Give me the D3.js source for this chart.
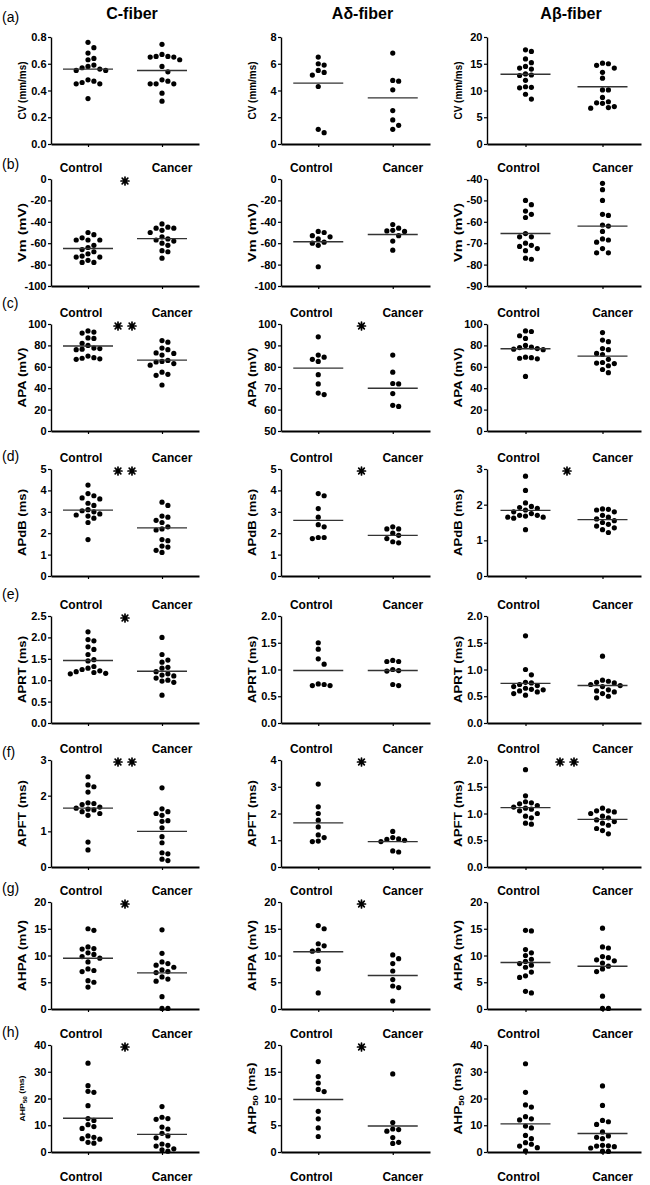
<!DOCTYPE html>
<html><head><meta charset="utf-8">
<script src="https://cdn.jsdelivr.net/npm/d3@7"></script>
<style>
body{margin:0;background:#fff}
svg{display:block;background:#fff}
text{font-family:"Liberation Sans",Arial,Helvetica,sans-serif;fill:#000}
</style>
</head><body>
<svg id="chart" width="650" height="1185"></svg>
<script>
// ---------- categories & labels ----------
const fiberTypes = ["C-fiber", "Aδ-fiber", "Aβ-fiber"];
const groups = ["Control", "Cancer"];
const panelLetters = ["(a)", "(b)", "(c)", "(d)", "(e)", "(f)", "(g)", "(h)"];
const yAxisTitles = ["CV (mm/ms)", "Vm (mV)", "APA (mV)", "APdB (ms)", "APRT (ms)", "APFT (ms)", "AHPA (mV)", "AHP50 (ms)"];

// tick labels per row, per fiber type
const yTickLabels = [
  [["0.0","0.2","0.4","0.6","0.8"], ["0","2","4","6","8"], ["0","5","10","15","20"]],
  [["-100","-80","-60","-40","-20","0"], ["-100","-80","-60","-40","-20","0"], ["-90","-80","-70","-60","-50","-40"]],
  [["0","20","40","60","80","100"], ["50","60","70","80","90","100"], ["0","20","40","60","80","100"]],
  [["0","1","2","3","4","5"], ["0","1","2","3","4","5"], ["0","1","2","3"]],
  [["0.0","0.5","1.0","1.5","2.0","2.5"], ["0.0","0.5","1.0","1.5","2.0"], ["0.0","0.5","1.0","1.5","2.0"]],
  [["0","1","2","3"], ["0","1","2","3","4"], ["0.0","0.5","1.0","1.5","2.0"]],
  [["0","5","10","15","20"], ["0","5","10","15","20"], ["0","5","10","15","20"]],
  [["0","10","20","30","40"], ["0","5","10","15","20"], ["0","10","20","30","40"]]
];

// significance stars (count) per row, per fiber type
const significance = [[0,0,0],[1,0,0],[2,1,0],[2,1,1],[1,0,0],[2,1,2],[1,1,0],[1,1,0]];

// ---------- data (C-fiber, Aδ-fiber, Aβ-fiber) ----------
const CV_control = [
  [0.76,0.72,0.68,0.64,0.63,0.59,0.58,0.57,0.56,0.55,0.55,0.48,0.47,0.46,0.45,0.45,0.34],
  [6.5,6.0,5.9,5.5,5.35,5.15,4.3,1.1,0.85],
  [17.6,17.3,15.9,15.2,14.5,14.2,14.0,13.1,12.9,12.8,11.9,10.7,10.6,10.5,9.3,8.4]];
const CV_cancer = [
  [0.745,0.67,0.655,0.655,0.65,0.65,0.63,0.58,0.54,0.48,0.47,0.45,0.45,0.45,0.38,0.32],
  [6.8,4.75,4.7,4.05,2.5,1.8,1.4,1.1],
  [15.1,15.0,14.7,14.2,13.4,12.3,10.1,10.1,8.7,7.9,7.7,7.6,7.0,6.8,6.7]];
const CV_means = [[0.56,0.55],[4.55,3.45],[13.05,10.7]];

const Vm_control = [
  [-50,-52,-55,-57,-57,-57,-62,-64,-66,-68,-70,-72,-73,-73,-76,-78,-78],
  [-49,-50,-53,-54,-56,-59,-60,-62,-82],
  [-50,-52,-55,-56.5,-58,-65.5,-67,-67,-70,-71,-71.5,-72.5,-73.5,-77,-77.5]];
const Vm_cancer = [
  [-42,-45,-46,-46,-48,-50,-54,-56,-57,-58,-60,-62,-67,-68,-74],
  [-42.5,-46,-48,-48.5,-49,-53,-58,-66.5],
  [-42,-45,-50,-56.5,-57,-61.5,-62,-64.5,-68,-68.5,-69.5,-72.5,-74.5,-74.5]];
const Vm_means = [[-65,-55.7],[-58.7,-51.9],[-65.5,-62]];

const APA_control = [
  [93.5,92.5,91.5,87,86.5,82,80,77.5,77,76.5,76,70,68.5,68,67.5,67],
  [94,85.5,84.5,83.5,82.5,76.3,72,67.7,67],
  [93.5,93,89,86.5,80,78.5,78,77,76.5,76,69,68.5,68,67.5,51]];
const APA_cancer = [
  [84.5,83,77.5,76,73,72.5,71,66,65,64.5,63,61.5,55,53,52,43],
  [85.5,77.5,72.2,72,67.5,62,61.5],
  [92,85,83.5,77,76,72.5,71.5,67,64,63.5,63,61,57.5,54.5]];
const APA_means = [[79.5,66.2],[79.4,70],[76.8,70]];

const APdB_control = [
  [4.25,3.85,3.75,3.65,3.6,3.4,3.3,3.1,3.05,3.0,2.9,2.85,2.8,2.7,2.5,1.7],
  [3.85,3.75,3.15,2.75,2.4,2.3,1.8,1.8,1.75],
  [2.8,2.4,2.05,1.95,1.92,1.9,1.85,1.8,1.75,1.7,1.7,1.68,1.65,1.65,1.62,1.3]];
const APdB_cancer = [
  [3.45,3.3,2.8,2.75,2.6,2.5,2.3,2.2,2.15,1.7,1.65,1.4,1.35,1.2,1.1],
  [2.3,2.2,2.2,2.0,1.9,1.75,1.6,1.55],
  [1.88,1.87,1.85,1.8,1.7,1.65,1.6,1.55,1.5,1.45,1.4,1.35,1.3,1.22]];
const APdB_means = [[3.08,2.25],[2.6,1.9],[1.84,1.58]];

const APRT_control = [
  [2.13,1.95,1.92,1.78,1.72,1.6,1.48,1.45,1.32,1.28,1.25,1.22,1.2,1.18,1.16,1.15],
  [1.5,1.38,1.2,1.1,0.73,0.72,0.7,0.7],
  [1.63,1.0,0.9,0.76,0.75,0.72,0.7,0.68,0.65,0.63,0.62,0.6,0.58,0.55,0.52]];
const APRT_cancer = [
  [2.0,1.6,1.47,1.42,1.3,1.28,1.2,1.15,1.12,1.1,1.05,1.0,0.98,0.95,0.65],
  [1.17,1.15,1.15,1.0,0.98,0.97,0.72,0.7],
  [1.25,0.8,0.78,0.76,0.75,0.72,0.7,0.68,0.62,0.6,0.58,0.55,0.5,0.47]];
const APRT_means = [[1.46,1.21],[0.98,0.98],[0.74,0.7]];

const APFT_control = [
  [2.53,2.3,2.25,2.1,1.8,1.78,1.75,1.68,1.65,1.62,1.6,1.55,1.5,1.45,0.7,0.48],
  [3.1,2.25,2.0,1.75,1.5,1.2,1.1,0.97,0.95],
  [1.82,1.33,1.22,1.2,1.18,1.15,1.12,1.1,1.08,1.05,1.0,0.95,0.92,0.82,0.8]];
const APFT_cancer = [
  [2.22,1.63,1.55,1.5,1.45,1.3,1.28,1.1,0.85,0.68,0.4,0.37,0.22,0.18],
  [1.33,1.1,1.05,1.03,1.0,0.95,0.6,0.56],
  [1.1,1.05,1.05,1.03,1.0,0.95,0.92,0.88,0.85,0.82,0.78,0.72,0.68,0.62]];
const APFT_means = [[1.65,1.0],[1.65,0.95],[1.11,0.89]];

const AHPA_control = [
  [15,14.7,11.6,11.3,11.2,10.5,10.2,9.8,9.5,8.8,7.5,7.2,7.0,5.3,5.0,4.1],
  [15.6,15.0,12.2,11.8,11.0,10.8,8.9,7.5,3.0],
  [14.7,14.6,11.1,10.5,10.0,9.3,8.9,8.5,8.2,7.8,6.9,6.2,5.9,3.3,3.0]];
const AHPA_cancer = [
  [14.8,10.4,8.8,8.5,8.2,7.8,7.3,7.0,6.8,6.0,5.6,5.2,2.3,0.1,0.1],
  [10.1,9.4,8.5,7.1,5.5,4.3,4.0,1.5],
  [15.1,11.6,11.4,9.8,9.6,9.2,9.0,8.6,8.0,7.5,7.0,2.4,0.1,0.1]];
const AHPA_means = [[9.5,6.75],[10.7,6.25],[8.7,8.0]];

const AHP50_control = [
  [33.2,24.8,22.7,22.3,17.3,12.5,11.8,10.2,9.5,8.8,6.0,5.5,5.0,4.8,3.6,3.3],
  [16.9,14.1,12.9,11.7,11.3,7.6,6.2,4.5,2.9],
  [33,22.3,17.6,16.8,13.2,12.4,12.0,9.7,9.0,6.2,5.0,3.5,2.9,2.2,1.6,0.4]];
const AHP50_cancer = [
  [17.0,13.0,12.5,12.2,9.3,8.6,7.0,6.0,5.3,3.0,2.5,2.2,1.2,0.8,0.3],
  [14.6,5.5,4.3,4.2,3.9,2.7,1.8,1.6],
  [24.7,17.4,11.8,11.3,10.3,7.5,6.0,5.5,5.0,2.5,2.3,2.2,2.0,1.5,0.3,0.2]];
const AHP50_means = [[12.6,6.6],[9.8,4.85],[10.5,6.9]];

// build table from named arrays
const rows = [
  [CV_control, CV_cancer, CV_means],
  [Vm_control, Vm_cancer, Vm_means],
  [APA_control, APA_cancer, APA_means],
  [APdB_control, APdB_cancer, APdB_means],
  [APRT_control, APRT_cancer, APRT_means],
  [APFT_control, APFT_cancer, APFT_means],
  [AHPA_control, AHPA_cancer, AHPA_means],
  [AHP50_control, AHP50_cancer, AHP50_means]
];

// ---------- layout ----------
const rowTop = [37, 179, 324, 469, 616, 760, 902, 1045];
const rowHeight = 107;
const colRange = [[51, 199], [281, 430], [487, 641]];
const titleLen = [58, 59, 60, 67, 67, 67, 71, 72];
const letterBaseline = [22, 169, 308, 461, 599, 757, 893, 1037];
const R = 2.6;

const svg = d3.select("#chart");

function swarm(values, y, cx) {
  const pts = values.map(v => ({ v, y: y(v) })).sort((a, b) => a.y - b.y);
  const D = 2 * R + 0.4, step = 2 * R + 0.7;
  const placed = [];
  pts.forEach(p => {
    for (let k = 0; k < 60; k++) {
      const off = k === 0 ? 0 : (k % 2 ? 1 : -1) * Math.ceil(k / 2) * step;
      const x = cx + off;
      if (placed.every(q => (q.x - x) ** 2 + (q.y - p.y) ** 2 >= D * D)) { p.x = x; break; }
    }
    placed.push(p);
  });
  return placed;
}

// eight-armed asterisk path
function starPath(r) {
  const p = d3.path();
  for (let a = 0; a < 4; a++) {
    const t = a * Math.PI / 4;
    p.moveTo(-r * Math.cos(t), -r * Math.sin(t));
    p.lineTo(r * Math.cos(t), r * Math.sin(t));
  }
  return p.toString();
}

// column titles
fiberTypes.forEach((t, c) => {
  const x = d3.scalePoint().domain(groups).range(colRange[c]).padding(0.5);
  svg.append("text")
    .attr("x", (x("Control") + x("Cancer")) / 2 + 7)
    .attr("y", 19)
    .attr("text-anchor", "middle")
    .attr("font-size", 16).attr("font-weight", "bold")
    .text(t);
});

// panel letters
panelLetters.forEach((l, r) => {
  svg.append("text").attr("x", 2).attr("y", letterBaseline[r])
    .attr("font-size", 14).text(l);
});

rows.forEach((row, r) => {
  const [ctrl, canc, means] = row;
  for (let c = 0; c < 3; c++) {
    const labels = yTickLabels[r][c];
    const ticks = labels.map(Number);
    const y = d3.scaleLinear()
      .domain([ticks[0], ticks[ticks.length - 1]])
      .range([rowTop[r] + rowHeight, rowTop[r]]);
    const x = d3.scalePoint().domain(groups).range(colRange[c]).padding(0.5);
    const g = svg.append("g");

    // y axis
    const ya = g.append("g")
      .attr("transform", `translate(${colRange[c][0]},0)`)
      .call(d3.axisLeft(y).tickValues(ticks).tickFormat((d, i) => labels[i])
        .tickSize(3).tickSizeOuter(0).tickPadding(1.5));
    ya.select(".domain").attr("stroke-width", 1.4);
    ya.selectAll(".tick line").attr("stroke-width", 1.2);
    ya.selectAll("text").attr("font-size", 11).attr("font-weight", "bold")
      .attr("font-family", "'Liberation Sans',Arial,sans-serif").attr("fill", "#000");

    // x axis
    const xa = g.append("g")
      .attr("transform", `translate(0,${y.range()[0]})`)
      .call(d3.axisBottom(x).tickSize(3).tickSizeOuter(0).tickFormat(""));
    xa.select(".domain").attr("stroke-width", 1.8);
    xa.selectAll(".tick line").attr("stroke-width", 1.2);

    // y axis title
    const small = (r === 7 && c === 0);
    const ty = g.append("text")
      .attr("transform", `translate(${colRange[c][0] - 29},${rowTop[r] + rowHeight / 2}) rotate(-90)`)
      .attr("text-anchor", "middle")
      .attr("dy", "0.35em")
      .attr("font-weight", "bold")
      .attr("font-size", small ? 8 : 11.5)
      .attr("textLength", small ? 46 : titleLen[r])
      .attr("lengthAdjust", "spacingAndGlyphs");
    const title = yAxisTitles[r];
    if (title.startsWith("AHP50")) {
      ty.append("tspan").text("AHP");
      ty.append("tspan").attr("dy", "0.3em").attr("font-size", small ? 6 : 8).text("50");
      ty.append("tspan").attr("dy", "-0.3em").text(" (ms)");
    } else {
      ty.text(title);
    }

    // group labels above (rows b-h) and below (row h)
    const labelOffset = { Control: -7, Cancer: 10 };
    if (r > 0) {
      groups.forEach(gr => {
        g.append("text").attr("x", x(gr) + labelOffset[gr]).attr("y", rowTop[r] - 7)
          .attr("text-anchor", "middle").attr("font-size", 12).attr("font-weight", "bold").text(gr);
      });
    }
    if (r === rows.length - 1) {
      groups.forEach(gr => {
        g.append("text").attr("x", x(gr) + labelOffset[gr]).attr("y", y.range()[0] + 29)
          .attr("text-anchor", "middle").attr("font-size", 12).attr("font-weight", "bold").text(gr);
      });
    }

    // points
    [ctrl[c], canc[c]].forEach((vals, gi) => {
      const pts = swarm(vals, y, x(groups[gi]));
      g.selectAll(null).data(pts).enter().append("circle")
        .attr("cx", d => d.x).attr("cy", d => d.y).attr("r", R).attr("fill", "#000");
      // mean line
      g.append("line")
        .attr("x1", x(groups[gi]) - 25).attr("x2", x(groups[gi]) + 25)
        .attr("y1", y(means[c][gi])).attr("y2", y(means[c][gi]))
        .attr("stroke", "#333").attr("stroke-width", 1.4);
    });

    // significance stars
    const n = significance[r][c];
    if (n > 0) {
      const shift = [0, 6, 3][c];
      const mid = (x("Control") + x("Cancer")) / 2 + shift;
      for (let k = 0; k < n; k++) {
        const sx = n === 1 ? mid : mid + (k - 0.5) * 14;
        g.append("path").attr("d", starPath(4))
          .attr("transform", `translate(${sx},${y.range()[1] + 2})`)
          .attr("fill", "none").attr("stroke", "#000").attr("stroke-width", 1.7)
          .attr("stroke-linecap", "round");
        g.append("circle").attr("cx", sx).attr("cy", y.range()[1] + 2).attr("r", 1.8).attr("fill", "#000");
      }
    }
  }
});
</script>
</body></html>
